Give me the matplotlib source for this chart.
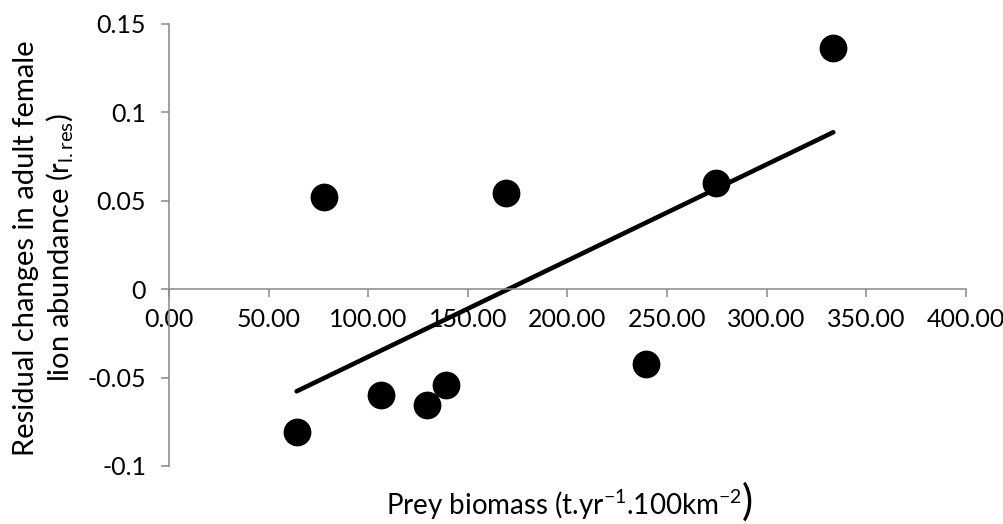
import numpy as np
import matplotlib
matplotlib.use('Agg')
import matplotlib.pyplot as plt

# Fonts: Lato is the closest match to the Calibri look of the original
plt.rcParams['font.family'] = ['Lato', 'DejaVu Sans']
plt.rcParams['mathtext.fontset'] = 'custom'
plt.rcParams['mathtext.rm'] = 'Lato'
plt.rcParams['mathtext.it'] = 'Lato:italic'
plt.rcParams['mathtext.bf'] = 'Lato:bold'
plt.rcParams['axes.unicode_minus'] = False

# Data
prey_biomass = [64.1, 77.8, 106.6, 129.4, 139.2, 169.2, 239.6, 274.6, 333.5]
residual_change = [-0.0807, 0.0524, -0.0600, -0.0654, -0.0541, 0.0543, -0.0423, 0.0603, 0.1363]

x_ticks = [0, 50, 100, 150, 200, 250, 300, 350, 400]
y_ticks = [-0.1, -0.05, 0, 0.05, 0.1, 0.15]
y_tick_labels = ['-0.1', '-0.05', '0', '0.05', '0.1', '0.15']

# Linear trend line over the range of the data
slope, intercept = np.polyfit(prey_biomass, residual_change, 1)
trend_x = np.array([min(prey_biomass), max(prey_biomass)])
trend_y = slope * trend_x + intercept

fig = plt.figure(figsize=(10.04, 5.24), dpi=100, facecolor='white')
ax = fig.add_axes([0.1683, 0.1107, 0.7936, 0.8435])

ax.scatter(prey_biomass, residual_change, s=400, color='black', zorder=3, linewidths=0)
ax.plot(trend_x, trend_y, color='black', linewidth=3.3, solid_capstyle='round', zorder=2)

ax.set_xlim(0, 400)
ax.set_ylim(-0.1, 0.15)

# Axis lines like Excel: y axis at x=0, x axis crossing at y=0
spine_color = '#888888'
ax.spines['top'].set_visible(False)
ax.spines['right'].set_visible(False)
ax.spines['bottom'].set_position(('data', 0))
for side in ['left', 'bottom']:
    ax.spines[side].set_color(spine_color)
    ax.spines[side].set_linewidth(1.1)

tick_fs = 18
label_fs = 20

ax.set_xticks(x_ticks)
ax.set_xticklabels(['%.2f' % v for v in x_ticks])
ax.set_yticks(y_ticks)
ax.set_yticklabels(y_tick_labels)
ax.tick_params(axis='both', direction='out', length=5.5, width=1.1, color=spine_color,
               labelsize=tick_fs, labelcolor='black')
ax.tick_params(axis='y', pad=11)
ax.tick_params(axis='x', pad=8)

# Axis titles
fig.text(0.0438, 0.5267, 'Residual changes in adult female\nlion abundance (r$_{\\mathrm{l.res}}$)',
         rotation=90, ha='center', va='center', multialignment='center', fontsize=21,
         linespacing=1.2)

# x title: the closing bracket is drawn larger, as in the original
label_y = 1 - 515 / 524
paren = fig.text(753 / 1004, label_y, ')', ha='right', va='baseline', fontsize=30)
fig.canvas.draw()
paren_left = paren.get_window_extent().x0 / fig.bbox.width
fig.text(paren_left, label_y, 'Prey biomass (t.yr$^{-1}$.100km$^{-2}$', ha='right', va='baseline',
         fontsize=label_fs)

fig.savefig('out.png', dpi=100, facecolor='white')
